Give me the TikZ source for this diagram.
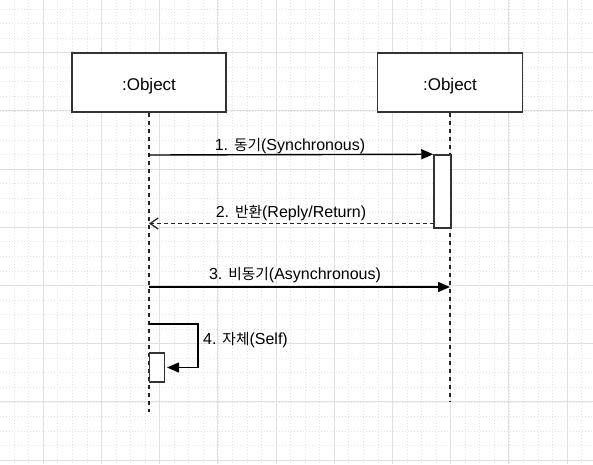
\documentclass[tikz,border=0pt]{standalone}
\usepackage{fontspec}
\setmainfont{Liberation Sans}
\newfontfamily\kr[Scale=0.92]{Noto Sans CJK KR}
\usetikzlibrary{arrows.meta}
\definecolor{gridmaj}{HTML}{E0E0E0}
\definecolor{gridmin}{HTML}{E2E2E2}
\definecolor{edge}{HTML}{333333}
\tikzset{
  minorgrid/.style={draw=gridmin, line width=0.8pt, dash pattern=on 1pt off 2pt},
  majorgrid/.style={draw=gridmaj, line width=0.9pt},
  objbox/.style={draw=edge, line width=1.6pt, fill=white, minimum height=59pt, inner sep=0pt, text height=16pt, text depth=0pt, font=\fontsize{17}{20}\selectfont},
  actbox/.style={draw=edge, line width=1.5pt, fill=white, inner sep=0pt},
  lifeline/.style={draw=black!85, line width=1.5pt, dash pattern=on 4pt off 4pt},
  msg/.style={draw=black, line width=1.4pt, -{Triangle[length=12pt,width=10pt]}},
  reply/.style={draw=black!85, line width=1.3pt, dash pattern=on 4pt off 3pt, -{Straight Barb[length=8pt,width=11pt,line width=1.3pt]}},
  lbl/.style={font=\fontsize{16}{19}\selectfont, inner sep=0pt}
}
\begin{document}
\begin{tikzpicture}[x=1pt,y=-1pt]
\useasboundingbox (0,0) rectangle (593,464);
\fill[white] (0,0) rectangle (593,464);
% grid
\foreach \i in {0,...,41} {
  \draw[minorgrid] ({-0.35+\i*14.55},0) -- ({-0.35+\i*14.55},464);
}
\foreach \j in {0,...,33} {
  \draw[minorgrid] (0,{-5.5+\j*14.55}) -- (593,{-5.5+\j*14.55});
}
\foreach \k in {0,...,10} {
  \draw[majorgrid] ({-14.9+\k*58.2},0) -- ({-14.9+\k*58.2},464);
}
\foreach \k in {0,...,8} {
  \draw[majorgrid] (0,{-5.5+\k*58.2}) -- (593,{-5.5+\k*58.2});
}
% objects
\node[objbox, minimum width=154pt] (o1) at (149,82.5) {:Object};
\node[objbox, minimum width=145pt] (o2) at (450,82.5) {:Object};
% lifeline ends
\coordinate (e1) at (149,412);
\coordinate (e2) at (450,402);
\draw[lifeline] (o1.south) -- (e1);
\draw[lifeline] (o2.south) -- (e2);
% activations
\node[actbox, minimum width=17pt, minimum height=73pt] (a1) at (442.5,191.5) {};
\node[actbox, minimum width=15pt, minimum height=29pt] (a2) at (156.8,367.5) {};
% message points
\coordinate (s1) at (149,155);
\coordinate (r1) at (149,223.5);
\coordinate (r0) at (434,223.5);
\coordinate (as1) at (149,287);
\coordinate (as2) at (450,287);
\coordinate (se1) at (149,324);
\coordinate (se2) at (198,367.5);
% messages
\draw[msg] (s1) -- (a1.north west);
\draw[reply] (r0) -- (r1);
\draw[msg] (as1) -- (as2);
\draw[msg] (se1) -| (se2) -- (a2.east -| 167,0);
% labels
\node[lbl] (t1) at (290,146) {1. {\kr 동기}(Synchronous)};
\node[lbl] (t2) at (291,213) {2. {\kr 반환}(Reply/Return)};
\node[lbl] (t3) at (295,275) {3. {\kr 비동기}(Asynchronous)};
\node[lbl, anchor=west] (t4) at (203,340) {4. {\kr 자체}(Self)};
\end{tikzpicture}
\end{document}
